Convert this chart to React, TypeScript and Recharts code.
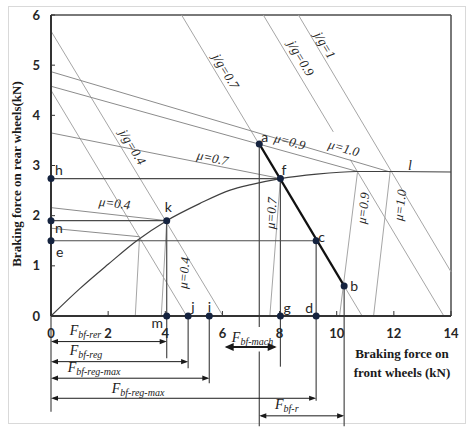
import React from "react";
import { ComposedChart, Line, XAxis, YAxis, ReferenceLine, ReferenceDot } from "recharts";

const xTicks = [0, 2, 4, 6, 8, 10, 12, 14];
const yTicks = [0, 1, 2, 3, 4, 5, 6];

// ideal braking force distribution curve (front kN, rear kN)
const curveX = [0, 1, 2, 3, 4.05, 5.2, 6.27, 7, 8.03, 9.3, 10.7, 11.9, 14];
const curveY = [0, 0.54, 1.03, 1.5, 1.9, 2.24, 2.51, 2.62, 2.74, 2.83, 2.88, 2.88, 2.87];

// friction lines: rear-lock lines start on the y axis, front-lock lines on the x axis,
// both meet the ideal curve
const muValues = ["0.3", "0.4", "0.7", "0.9", "1.0"];
const rearLockStart = [1.75, 2.16, 3.65, 4.58, 4.87];
const frontLockStart = [2.95, 3.86, 7.66, 10.1, 11.29];
const meetX = [3.1, 4.05, 8.03, 10.73, 11.87];
const meetY = [1.58, 1.9, 2.74, 2.88, 2.87];

// constant deceleration lines [x1, y1, x2, y2]
const decelSegments = [
  [0, 4.5, 4.75, 0],
  [0, 5.68, 6.02, 0],
  [4.57, 6, 10.89, 0],
  [7.43, 6, 9.88, 3.67],
  [10.47, 3.12, 13.75, 0],
  [8.66, 6, 14, 0.88],
];

// marked points
const pointNames = ["h", "n", "e", "k", "m", "j", "i", "a", "f", "g", "c", "d", "b"];
const pointX = [0, 0, 0, 4.05, 4.05, 4.8, 5.54, 7.29, 8.03, 8.03, 9.28, 9.28, 10.26];
const pointY = [2.74, 1.9, 1.5, 1.9, 0, 0, 0, 3.43, 2.74, 0, 1.5, 0, 0.6];

// construction lines [x1, y1, x2, y2]
const guideSegments = [
  [0, 2.74, 8.03, 2.74],
  [0, 1.9, 4.05, 1.9],
  [0, 1.5, 9.28, 1.5],
  [0, 0, 0, -1.91],
  [4.05, 1.9, 4.05, -0.84],
  [4.8, 0, 4.8, -1.04],
  [5.54, 0, 5.54, -1.34],
  [7.29, 3.43, 7.29, -0.22],
  [7.29, -0.71, 7.29, -2.2],
  [8.03, 2.74, 8.03, -1.01],
  [9.28, 1.5, 9.28, -1.69],
  [10.26, 0.6, 10.26, -2.2],
];
const workLine = [7.29, 3.43, 10.26, 0.6];

// dimension arrows [from x, to x, at y]
const dimArrows = [
  [0, 4.05, -0.51],
  [0, 4.8, -0.91],
  [0, 5.54, -1.24],
  [0, 9.28, -1.64],
  [7.29, 10.26, -1.99],
];
const machArrow = [6.08, 7.9, -0.62];
const dimNames = ["bf-rer", "bf-reg", "bf-reg-max", "bf-reg-max", "bf-mach", "bf-r"];
const dimLabelX = [0.655, 0.655, 0.585, 2.126, 6.33, 7.84];
const dimLabelY = [-0.38, -0.78, -1.12, -1.54, -0.52, -1.85];

// line annotations
const lineLabels = ["j/g=0.4", "j/g=0.7", "j/g=0.9", "j/g=1", "μ=0.4", "μ=0.7", "μ=0.9", "μ=1.0", "μ=0.4", "μ=0.7", "μ=0.9", "μ=1.0"];
const lineLabelX = [2.86, 6.12, 8.75, 9.59, 2.23, 5.66, 8.36, 10.25, 4.65, 7.7, 10.92, 12.21];
const lineLabelY = [3.37, 4.88, 5.14, 5.4, 2.25, 3.15, 3.48, 3.35, 0.86, 2.05, 2.15, 2.21];
const lineLabelAngle = [59, 59, 59, 59, 7, 12, 15, 16, -85, -86, -83, -83];

const curve = curveX.map((x, i) => ({ x, y: curveY[i] }));

const serif = "'Liberation Serif', 'Times New Roman', serif";
const sans = "Lato, 'Liberation Sans', sans-serif";

const pointOffset: Record<string, [number, number]> = {
  h: [4, -3.5], n: [4, 12], e: [5, 16], k: [-2, -8.7], m: [-15.3, 12.3], j: [3, -4],
  i: [-1.5, -4], a: [2, -2], f: [1, -4], g: [3, -3], c: [2, 1], d: [-11, -3], b: [6, 5],
};

const pointShape = (name: string) => (p: any) => {
  const [dx, dy] = pointOffset[name];
  return (
    <g>
      <circle cx={p.cx} cy={p.cy} r={3.5} fill="#15233f" />
      <text x={p.cx + dx} y={p.cy + dy} fontFamily={sans} fontSize={14} fill="#262626">{name}</text>
    </g>
  );
};

const rotatedText = (label: string, angle: number) => (p: any) => (
  <text
    x={p.cx}
    y={p.cy}
    transform={`rotate(${angle} ${p.cx} ${p.cy})`}
    textAnchor="middle"
    dominantBaseline="central"
    fontFamily={serif}
    fontStyle="italic"
    fontSize={13}
    fill="#262626"
  >
    {label}
  </text>
);

const forceLabel = (sub: string) => (p: any) => (
  <text x={p.cx} y={p.cy} fontFamily={serif} fontStyle="italic" fontSize={14} fill="#1a1a1a">
    F<tspan fontSize={10} dy={3}>{sub}</tspan>
  </text>
);

const arrowShape = (bold: boolean) => (p: any) => {
  const { x1, y1, x2 } = p;
  const len = bold ? 9 : 7;
  const half = bold ? 4 : 2.6;
  return (
    <g>
      <line x1={x1 + 2} y1={y1} x2={x2 - 2} y2={y1} stroke="#1a1a1a" strokeWidth={bold ? 2 : 1} />
      <polygon points={`${x1},${y1} ${x1 + len},${y1 - half} ${x1 + len},${y1 + half}`} fill="#1a1a1a" />
      <polygon points={`${x2},${y1} ${x2 - len},${y1 - half} ${x2 - len},${y1 + half}`} fill="#1a1a1a" />
    </g>
  );
};

const YTitle = (props: any) => {
  const vb = props.viewBox;
  const x = vb.x + 16;
  const y = vb.y + vb.height / 2 + 8.5;
  return (
    <text
      x={x}
      y={y}
      transform={`rotate(-90 ${x} ${y})`}
      textAnchor="middle"
      dominantBaseline="central"
      fontFamily={serif}
      fontWeight={700}
      fontSize={13}
      fill="#1a1a1a"
    >
      Braking force on rear wheels(kN)
    </text>
  );
};

const XTitle = (props: any) => {
  const vb = props.viewBox;
  const x = vb.x + vb.width - 49;
  return (
    <text textAnchor="middle" fontFamily={serif} fontWeight={700} fontSize={13} fill="#1a1a1a">
      <tspan x={x} y={vb.y + 42}>Braking force on</tspan>
      <tspan x={x} y={vb.y + 61}>front wheels  (kN)</tspan>
    </text>
  );
};

const tickStyle = { fontFamily: sans, fontWeight: 700, fontSize: 13, fill: "#262626" };

export default function App() {
  return (
    <div style={{ position: "absolute", left: 0, top: 0, width: 474, height: 430, background: "#fff" }}>
      <div
        style={{
          position: "absolute",
          left: 8,
          top: 6,
          width: 456,
          height: 416,
          border: "1px solid #d9d9d9",
        }}
      />
      <ComposedChart
        width={474}
        height={430}
        data={curve}
        margin={{ top: 15, right: 23, bottom: 84, left: 0 }}
        style={{ position: "absolute", left: 0, top: 0 }}
      >
        <XAxis
          dataKey="x"
          type="number"
          domain={[0, 14]}
          ticks={xTicks}
          height={30}
          tickSize={-5}
          tickMargin={18}
          tick={tickStyle}
          axisLine={{ stroke: "#333", strokeWidth: 2 }}
          tickLine={{ stroke: "#333" }}
          label={XTitle}
        />
        <YAxis
          type="number"
          domain={[0, 6]}
          ticks={yTicks}
          width={51}
          tickSize={-4}
          tickMargin={15}
          tick={tickStyle}
          axisLine={{ stroke: "#333", strokeWidth: 2 }}
          tickLine={{ stroke: "#333" }}
          label={YTitle}
        />
        <ReferenceLine y={6} stroke="#4d4d4d" strokeWidth={1.5} />
        <ReferenceLine x={14} stroke="#4d4d4d" strokeWidth={1.5} />

        {decelSegments.map((s, i) => (
          <ReferenceLine
            key={`dec${i}`}
            segment={[{ x: s[0], y: s[1] }, { x: s[2], y: s[3] }]}
            stroke="#a6a6a6"
            strokeWidth={1}
          />
        ))}
        {muValues.map((m, i) => (
          <ReferenceLine
            key={`r${m}`}
            segment={[{ x: 0, y: rearLockStart[i] }, { x: meetX[i], y: meetY[i] }]}
            stroke="#8c8c8c"
            strokeWidth={1}
          />
        ))}
        {muValues.map((m, i) => (
          <ReferenceLine
            key={`f${m}`}
            segment={[{ x: frontLockStart[i], y: 0 }, { x: meetX[i], y: meetY[i] }]}
            stroke="#a6a6a6"
            strokeWidth={1}
          />
        ))}
        {guideSegments.map((s, i) => (
          <ReferenceLine
            key={`g${i}`}
            segment={[{ x: s[0], y: s[1] }, { x: s[2], y: s[3] }]}
            stroke="#4a4a4a"
            strokeWidth={1.2}
            ifOverflow="visible"
          />
        ))}
        <Line
          dataKey="y"
          type="monotone"
          stroke="#404040"
          strokeWidth={1.2}
          dot={false}
          activeDot={false}
          isAnimationActive={false}
        />
        <ReferenceLine
          segment={[{ x: workLine[0], y: workLine[1] }, { x: workLine[2], y: workLine[3] }]}
          stroke="#111"
          strokeWidth={2.2}
        />
        {dimArrows.map((a, i) => (
          <ReferenceLine
            key={`d${i}`}
            segment={[{ x: a[0], y: a[2] }, { x: a[1], y: a[2] }]}
            ifOverflow="visible"
            shape={arrowShape(false)}
          />
        ))}
        <ReferenceLine
          segment={[{ x: machArrow[0], y: machArrow[2] }, { x: machArrow[1], y: machArrow[2] }]}
          ifOverflow="visible"
          shape={arrowShape(true)}
        />
        {dimNames.map((n, i) => (
          <ReferenceDot
            key={`dl${i}`}
            x={dimLabelX[i]}
            y={dimLabelY[i]}
            r={0}
            ifOverflow="visible"
            shape={forceLabel(n)}
          />
        ))}
        {lineLabels.map((t, i) => (
          <ReferenceDot
            key={`ll${i}`}
            x={lineLabelX[i]}
            y={lineLabelY[i]}
            r={0}
            ifOverflow="visible"
            shape={rotatedText(t, lineLabelAngle[i])}
          />
        ))}
        <ReferenceDot
          x={12.56}
          y={2.91}
          r={0}
          ifOverflow="visible"
          shape={(p: any) => (
            <text x={p.cx} y={p.cy} textAnchor="middle" fontFamily={serif} fontStyle="italic" fontSize={14} fill="#262626">
              l
            </text>
          )}
        />
        {pointNames.map((n, i) => (
          <ReferenceDot
            key={`p${n}`}
            x={pointX[i]}
            y={pointY[i]}
            r={3.5}
            ifOverflow="visible"
            shape={pointShape(n)}
          />
        ))}
      </ComposedChart>
    </div>
  );
}
